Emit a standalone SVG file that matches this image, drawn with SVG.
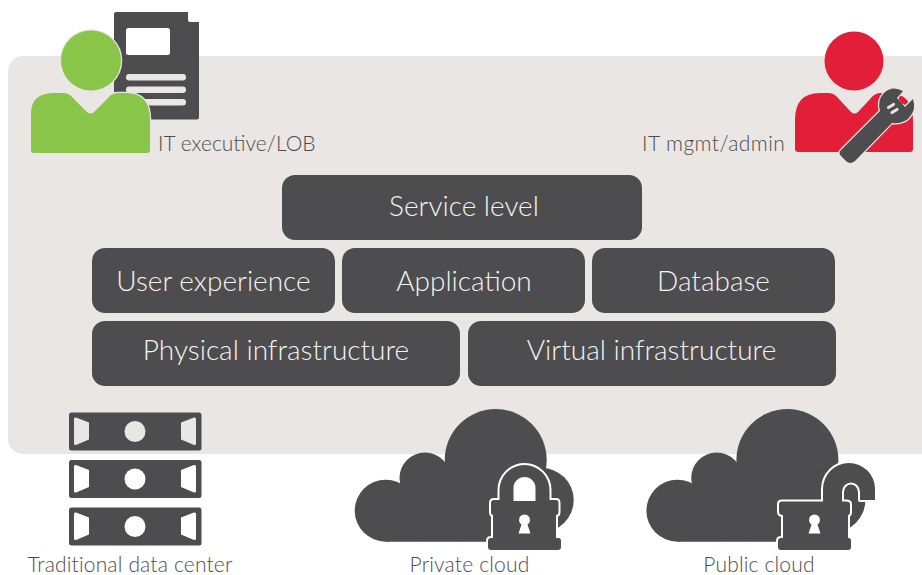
<svg xmlns="http://www.w3.org/2000/svg" width="922" height="575" viewBox="0 0 922 575">
<style>
text{font-family:"Lato","Open Sans","Liberation Sans",sans-serif;font-weight:300}
.box{fill:#4d4d4f}
.bt{fill:#f5f3f1;font-size:28px;text-anchor:middle}
.lb{fill:#4d4d4f;font-size:21px}
.bl{letter-spacing:.17px;text-anchor:middle}
.dk{fill:#4d4d4f}
.halo{fill:#4d4d4f;stroke:#fff;stroke-width:4;stroke-linejoin:round;paint-order:stroke}
.pan{fill:#e9e6e3}
</style>
<defs>
<g id="cloud" class="dk">
<circle cx="495.7" cy="460" r="51"/><circle cx="425" cy="478" r="25.5"/><circle cx="385.7" cy="510.7" r="31"/><circle cx="541.7" cy="500" r="32"/>
<path d="M385.7 541.7V500L425 470L495.7 450L541.7 480L545 531.7L530 541.7Z"/>
</g>
<path id="keyhole" fill="#fff" d="M521.5 524.5A5.5 5.5 0 1 1 527.5 524.5L530.5 533.5H518.5Z"/>
<g id="srv"><rect x="69" y="0" width="132.500" height="38" rx="2.500" class="dk"/>
<path d="M74 6.500Q74 4.500 76 5L89 10V27L76 32.500Q74 33 74 31Z"/><path d="M196 6.500Q196 4.500 194 5L181 10V27L194 32.500Q196 33 196 31Z"/><circle cx="135" cy="19" r="10.500"/></g>
</defs>
<rect id="panel" x="8" y="56" width="930" height="398" rx="15" class="pan"/>
<g id="it-executive">
<path class="dk" d="M116 12H188V20Q188 22 190 22H199V117Q199 119.500 197 119.500H116Q114 119.500 114 117V14Q114 12 116 12Z"/>
<rect x="126" y="28" width="44" height="27" rx="2.500" fill="#fff"/>
<rect x="126" y="74" width="60" height="6.500" rx="3.200" class="pan"/><rect x="126" y="86.500" width="60" height="6.500" rx="3.200" class="pan"/><rect x="126" y="99" width="60" height="6.500" rx="3.200" class="pan"/>
<g fill="#88c549" stroke="#e9e6e3" stroke-width="2.500" paint-order="stroke"><circle cx="91" cy="60.500" r="30"/>
<path d="M31 113Q31 93 55 93H63Q69 93 73 98L87 112Q90.500 115 94 112L108 98Q112 93 118 93H126Q150 93 150 120V150Q150 153 147 153H34Q31 153 31 150Z"/></g>
<text class="lb" x="158" y="151">IT executive/LOB</text>
</g>
<g id="it-admin">
<circle cx="854" cy="61" r="29.500" fill="#e21e39"/>
<path fill="#e21e39" d="M795 120Q795 93 820 93H828Q834 93 838 98L851 112Q854.500 115 858 112L871 98Q875 93 881 93H888Q913 93 913 120V149Q913 152 910 152H798Q795 152 795 149Z"/>
<path fill="#4d4d4f" stroke="#e9e6e3" stroke-width="2.500" paint-order="stroke" stroke-linejoin="round" d="M841 150L880 111Q877 100 884 93Q892 85 903 91L897 98L905 107L913 99Q917 110 908 119Q902 124 892 123L855 161Q850 165 846 161L841 156Q838 153 841 150Z"/>
<path fill="#e21e39" d="M898.300 99L902 96.500L906 101.500L902.500 104.500Z"/>
<rect x="886.500" y="104.500" width="9" height="3" rx="1.500" transform="rotate(-32 891 106)" fill="#e9e6e3"/>
<rect x="890" y="109.500" width="9" height="3" rx="1.500" transform="rotate(-32 894.500 111)" fill="#e9e6e3"/>
<text class="lb" x="642" y="151" letter-spacing="0.45">IT mgmt/admin</text>
</g>
<g id="service-level"><rect class="box" x="282" y="175" width="360" height="65" rx="13"/><text class="bt" x="464" y="216">Service level</text></g>
<g id="user-experience"><rect class="box" x="92" y="248" width="243" height="65" rx="13"/><text class="bt" x="213.500" y="291">User experience</text></g>
<g id="application"><rect class="box" x="342" y="248" width="243" height="65" rx="13"/><text class="bt" x="464" y="291">Application</text></g>
<g id="database"><rect class="box" x="592" y="248" width="243" height="65" rx="13"/><text class="bt" x="713.500" y="291">Database</text></g>
<g id="physical-infrastructure"><rect class="box" x="92" y="321" width="368" height="65" rx="13"/><text class="bt" x="276" y="360">Physical infrastructure</text></g>
<g id="virtual-infrastructure"><rect class="box" x="468" y="321" width="368" height="65" rx="13"/><text class="bt" x="651.500" y="360">Virtual infrastructure</text></g>
<g id="data-center">
<use href="#srv" y="412.500" fill="#e9e6e3"/><use href="#srv" y="460" fill="#fff"/><use href="#srv" y="507.500" fill="#fff"/>
<text class="lb bl" x="130" y="572">Traditional data center</text>
</g>
<g id="private-cloud">
<use href="#cloud"/>
<rect x="510" y="474" width="30" height="30" fill="#fff"/>
<path class="halo" fill-rule="evenodd" d="M499.500 490A25 25 0 0 1 549.500 490V500H556Q558.500 500 558.500 503V512Q558.500 515 556 515V538H558.500Q561 538 561 541V547Q561 550 558 550H491Q488 550 488 547V541Q488 538 491 538H493V515Q491 515 491 512V503Q491 500 494 500H499.500ZM513.500 501H535.500V488A11 11 0 0 0 513.500 488Z"/>
<use href="#keyhole"/>
<text class="lb bl" x="469.500" y="572">Private cloud</text>
</g>
<g id="public-cloud">
<use href="#cloud" x="291.700"/>
<path class="halo" d="M782 501.500H823V489A26 26 0 0 1 875 489V500H860V492A9 9.500 0 0 0 842 492V501.500H846Q850 501.500 850 504V512Q850 515 848 515V538H848.500Q851 538 851 541V547Q851 550 848 550H781Q778 550 778 547V541Q778 538 781 538H783V515Q779 515 779 512V504Q779 501.500 782 501.500Z"/>
<use href="#keyhole" x="290"/>
<text class="lb bl" x="759" y="572">Public cloud</text>
</g>
</svg>
